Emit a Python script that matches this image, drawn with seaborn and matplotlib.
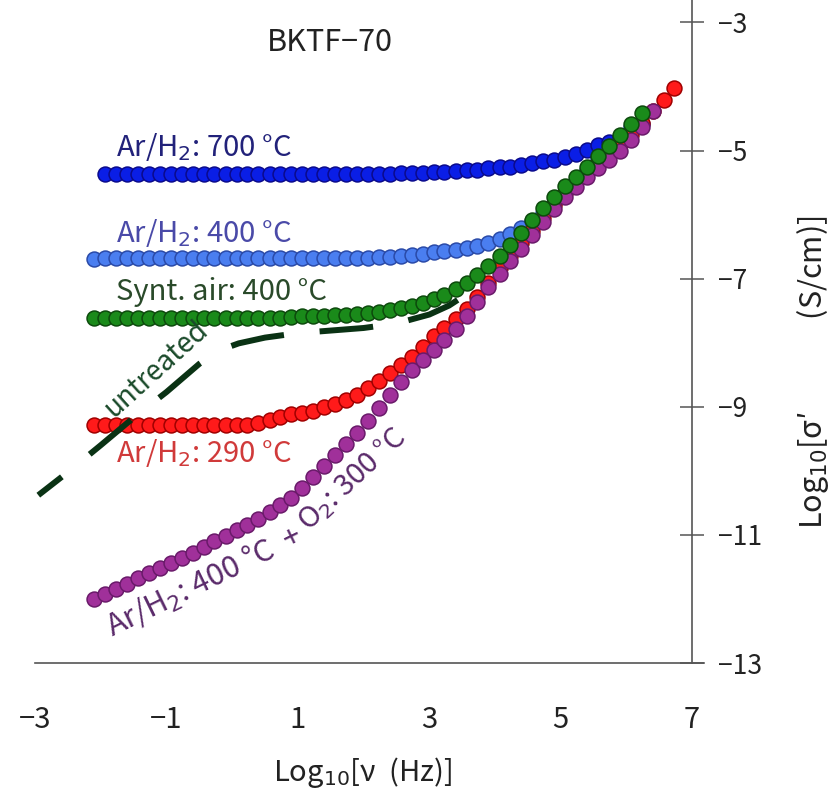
import matplotlib
matplotlib.use('Agg')
import matplotlib.pyplot as plt
import seaborn as sns

# log10 frequency grid of the measurements (6 points per decade)
freq = [-2.1, -1.93, -1.77, -1.6, -1.43, -1.27, -1.1, -0.93, -0.77, -0.6,
        -0.43, -0.27, -0.1, 0.07, 0.23, 0.4, 0.57, 0.73, 0.9, 1.07, 1.23,
        1.4, 1.57, 1.73, 1.9, 2.07, 2.23, 2.4, 2.57, 2.73, 2.9, 3.07, 3.23,
        3.4, 3.57, 3.73, 3.9, 4.07, 4.23, 4.4, 4.57, 4.73, 4.9, 5.07, 5.23,
        5.4, 5.57, 5.73, 5.9, 6.07, 6.23, 6.4, 6.57, 6.73]

# Ar/H2 700 C  (-1.93 ... 6.23)
sig_700 = [-5.37, -5.37, -5.37, -5.37, -5.36, -5.36, -5.36, -5.36, -5.36, -5.36,
           -5.36, -5.36, -5.36, -5.36, -5.36, -5.36, -5.36, -5.36, -5.36, -5.36,
           -5.36, -5.36, -5.36, -5.36, -5.36, -5.36, -5.36, -5.35, -5.35, -5.35,
           -5.34, -5.33, -5.32, -5.31, -5.30, -5.28, -5.26, -5.25, -5.23, -5.20,
           -5.17, -5.14, -5.10, -5.05, -4.99, -4.92, -4.86, -4.79, -4.70, -4.59]

# Ar/H2 400 C  (-2.1 ... 6.07)
sig_400 = [-6.69, -6.68, -6.68, -6.68, -6.68, -6.68, -6.68, -6.68, -6.68, -6.68,
           -6.68, -6.68, -6.68, -6.68, -6.68, -6.68, -6.68, -6.68, -6.68, -6.68,
           -6.68, -6.68, -6.68, -6.68, -6.68,
           -6.67, -6.66, -6.66, -6.65, -6.63, -6.61, -6.59, -6.57, -6.55, -6.52,
           -6.49, -6.44, -6.38, -6.30, -6.21, -6.10, -5.97, -5.82, -5.65, -5.48,
           -5.30, -5.13, -4.97, -4.80, -4.64]

# synthetic air 400 C  (-2.1 ... 6.23)
sig_air = [-7.62, -7.62, -7.62, -7.62, -7.62, -7.62, -7.62, -7.62, -7.62, -7.62,
           -7.62, -7.62, -7.62, -7.62, -7.62, -7.62, -7.62,
           -7.61, -7.60, -7.59, -7.58, -7.58, -7.57, -7.56, -7.55, -7.53, -7.52,
           -7.49, -7.46, -7.43, -7.38, -7.32, -7.25, -7.16, -7.06, -6.94, -6.80,
           -6.65, -6.48, -6.28, -6.08, -5.90, -5.72, -5.56, -5.41, -5.26, -5.09,
           -4.93, -4.76, -4.59, -4.41]

# Ar/H2 290 C  (-2.1 ... 6.73)
sig_290 = [-9.29, -9.29, -9.29, -9.29, -9.29, -9.29, -9.29, -9.29, -9.29, -9.29,
           -9.29, -9.29, -9.29, -9.29,
           -9.28, -9.25, -9.21, -9.16, -9.12, -9.09, -9.06, -9.01, -8.96, -8.89,
           -8.81, -8.71, -8.60, -8.48, -8.35, -8.22, -8.06, -7.90, -7.77, -7.63,
           -7.47, -7.28, -7.06, -6.84, -6.65, -6.45, -6.25, -6.05, -5.85, -5.66,
           -5.49, -5.33, -5.19, -5.05, -4.91, -4.75, -4.57, -4.38, -4.21, -4.03]

# Ar/H2 400 C + O2 300 C  (-2.1 ... 6.4)
sig_ox = [-12.00, -11.92, -11.84, -11.76, -11.68, -11.60, -11.52, -11.44, -11.36,
          -11.28, -11.19, -11.10, -11.02, -10.93, -10.84, -10.75, -10.65, -10.54,
          -10.42, -10.27, -10.10, -9.92, -9.75, -9.58, -9.41, -9.22, -9.02, -8.82,
          -8.62, -8.43, -8.27, -8.12, -7.96, -7.79, -7.58, -7.37, -7.13, -6.92,
          -6.73, -6.53, -6.32, -6.12, -5.92, -5.73, -5.57, -5.42, -5.28, -5.15,
          -5.01, -4.84, -4.63, -4.39]

# untreated sample (dashed curve)
untr_x = [-2.95, -2.5, -2.0, -1.5, -1.0, -0.5, -0.2, 0.1, 0.5, 1.0, 1.5, 2.0,
          2.5, 3.0, 3.3, 3.6]
untr_y = [-10.38, -10.02, -9.60, -9.17, -8.77, -8.33, -8.12, -8.01, -7.92, -7.85,
          -7.81, -7.77, -7.70, -7.56, -7.42, -7.22]

xticks = [-3, -1, 1, 3, 5, 7]
yticks = [-3, -5, -7, -9, -11, -13]

sns.set_style('white')
plt.rcParams['font.family'] = ['Noto Sans CJK JP', 'DejaVu Sans']

fig = plt.figure(figsize=(8.32, 7.95), dpi=100)
ax = fig.add_axes([0.0421, 0.166, 0.804, 0.834])

# series: x values, y values, face colour, edge colour, zorder
series = [
    (freq[0:50], sig_400, '#4a7ef0', '#2a4aa8', 2),
    (freq[1:51], sig_700, '#0a1ee6', '#0a0a8c', 3),
    (freq, sig_290, '#ff1a1a', '#a00000', 4),
    (freq[0:52], sig_ox, '#a0309a', '#6a1a6a', 5),
    (freq[0:51], sig_air, '#1a8a1a', '#0c4a0c', 6),
]
for xs, ys, face, edge, z in series:
    sns.scatterplot(x=xs, y=ys, s=115, color=face, edgecolor=edge, linewidth=1.1,
                    ax=ax, zorder=z, legend=False)

sns.lineplot(x=untr_x, y=untr_y, color='#0a3214', lw=4.3, ax=ax, zorder=7)
ax.lines[-1].set_linestyle((4, (9, 6)))
ax.lines[-1].set_dash_capstyle('butt')

ax.set_xlim(-3, 7.18)
ax.set_ylim(-13, -2.65)
ax.set_xticks(xticks)
ax.set_yticks(yticks)

ax.spines['left'].set_visible(False)
ax.spines['top'].set_visible(False)
ax.spines['right'].set_position(('data', 7))
for s in ['right', 'bottom']:
    ax.spines[s].set_color('#555555')
    ax.spines[s].set_linewidth(1.2)
ax.yaxis.tick_right()
ax.yaxis.set_label_position('right')
ax.tick_params(axis='x', direction='inout', length=12, width=1.1, color='#555555',
               pad=24, labelsize=21, labelcolor='#222222')
ax.tick_params(axis='y', direction='inout', length=17, width=1.1, color='#555555',
               pad=10, labelsize=19, labelcolor='#222222')

ax.set_xlabel('Log$_{10}$[ν  (Hz)]', fontsize=21, color='#222222')
ax.xaxis.set_label_coords(0.489, -0.138)
ax.set_ylabel('Log$_{10}$[σ′\u3000\u3000\u3000(S/cm)]', fontsize=22,
              color='#222222')
ax.yaxis.set_label_coords(1.136, 0.439)

ax.text(1.49, -3.44, 'BKTF−70', fontsize=22, ha='center', va='baseline',
        color='#222222')
ax.text(-1.77, -5.08, 'Ar/H$_2$: 700 °C', fontsize=21, color='#22227a',
        va='baseline')
ax.text(-1.77, -6.42, 'Ar/H$_2$: 400 °C', fontsize=21, color='#4a4aa8',
        va='baseline')
ax.text(-1.77, -7.33, 'Synt. air: 400 °C', fontsize=21, color='#2a4a2a',
        va='baseline')
ax.text(-1.77, -9.86, 'Ar/H$_2$: 290 °C', fontsize=21, color='#d03a3a',
        va='baseline')
ax.text(-1.80, -9.18, 'untreated', fontsize=20, color='#1a4a2a', rotation=42,
        rotation_mode='anchor', ha='left', va='baseline', zorder=8)
# the purple label bends along its curve in the original: two pieces
ax.text(-1.83, -12.58, 'Ar/H$_2$: 400 °C  +', fontsize=22, color='#5a2a6a',
        rotation=26, rotation_mode='anchor', ha='left', va='baseline')
ax.text(1.155, -10.96, 'O$_2$: 300 °C', fontsize=21, color='#5a2a6a',
        rotation=43, rotation_mode='anchor', ha='left', va='baseline')

fig.savefig('out.png', dpi=100)
